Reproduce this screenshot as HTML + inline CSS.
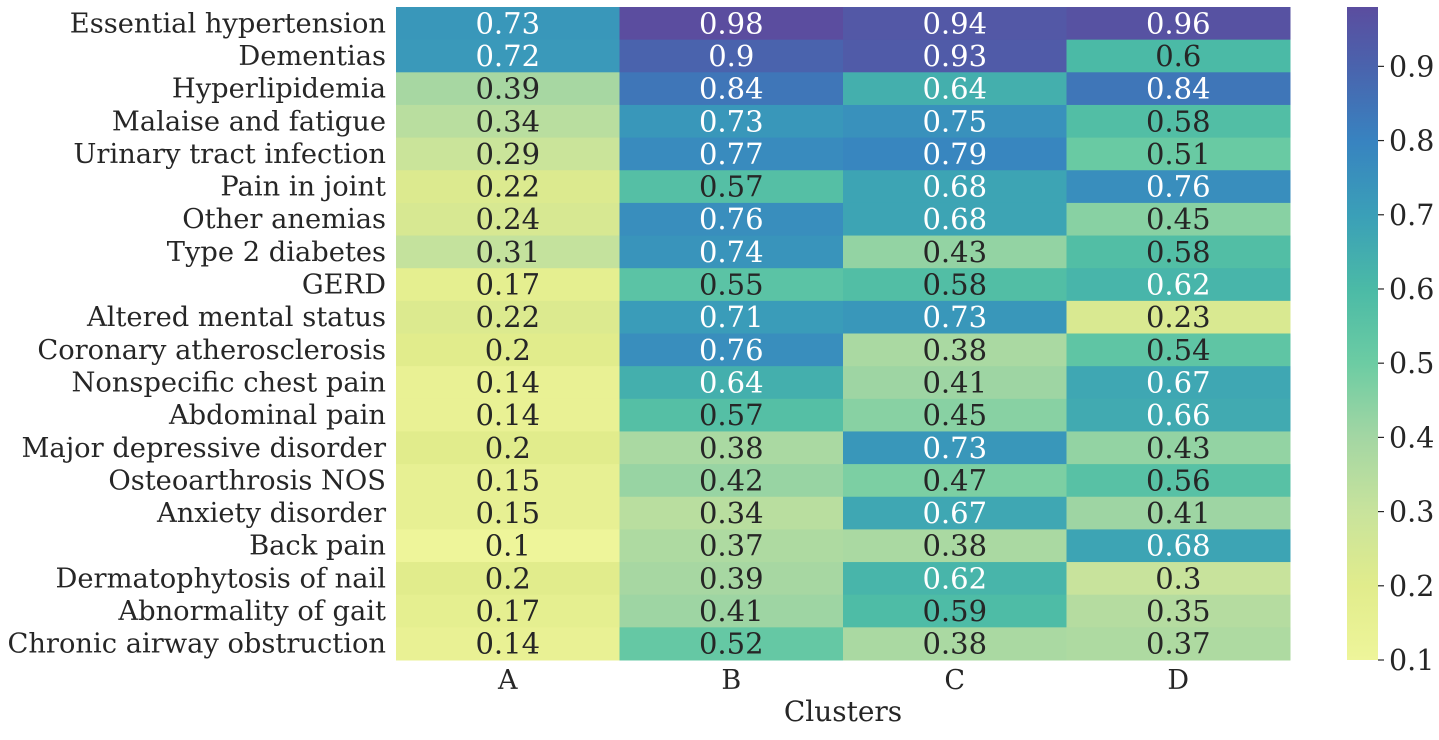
<!DOCTYPE html>
<html><head><meta charset="utf-8">
<style>
body{margin:0;background:#fff;width:1439px;height:735px;overflow:hidden}
svg text{font-family:"DejaVu Serif","Liberation Serif",serif;fill:#262626}
</style></head>
<body>
<svg id="chart" width="1439" height="735" xmlns="http://www.w3.org/2000/svg">
<defs><linearGradient id="cbg" x1="0" y1="1" x2="0" y2="0"></linearGradient></defs>
<g id="cells"></g>
<g id="ylabels"></g>
<g id="xlabels"></g>
<text x="843" y="721" font-size="28" text-anchor="middle">Clusters</text>
<rect x="1347" y="7" width="31" height="653" fill="url(#cbg)"/>
<g id="cbticks"></g>
</svg>
<script>
const categories=["Essential hypertension","Dementias","Hyperlipidemia","Malaise and fatigue","Urinary tract infection","Pain in joint","Other anemias","Type 2 diabetes","GERD","Altered mental status","Coronary atherosclerosis","Nonspecific chest pain","Abdominal pain","Major depressive disorder","Osteoarthrosis NOS","Anxiety disorder","Back pain","Dermatophytosis of nail","Abnormality of gait","Chronic airway obstruction"];
const clusters=["A","B","C","D"];
const seriesA=[0.73,0.72,0.39,0.34,0.29,0.22,0.24,0.31,0.17,0.22,0.2,0.14,0.14,0.2,0.15,0.15,0.1,0.2,0.17,0.14];
const seriesB=[0.98,0.9,0.84,0.73,0.77,0.57,0.76,0.74,0.55,0.71,0.76,0.64,0.57,0.38,0.42,0.34,0.37,0.39,0.41,0.52];
const seriesC=[0.94,0.93,0.64,0.75,0.79,0.68,0.68,0.43,0.58,0.73,0.38,0.41,0.45,0.73,0.47,0.67,0.38,0.62,0.59,0.38];
const seriesD=[0.96,0.6,0.84,0.58,0.51,0.76,0.45,0.58,0.62,0.23,0.54,0.67,0.66,0.43,0.56,0.41,0.68,0.3,0.35,0.37];
const cbTicks=[0.1,0.2,0.3,0.4,0.5,0.6,0.7,0.8,0.9];
const vmin=0.1, vmax=0.98;
const stops=[[0,"#eef59a"],[0.1136,"#e1ec8c"],[0.227,"#c8e39c"],[0.341,"#a3d6a3"],[0.4545,"#6ccca3"],[0.568,"#4bbaa6"],[0.682,"#3a9fb8"],[0.795,"#3883c0"],[0.909,"#4a63ad"],[1,"#5b4d9f"]];
const NS="http://www.w3.org/2000/svg";
const X0=396,X1=1290,Y0=7,Y1=660;
const cw=(X1-X0)/clusters.length, rh=(Y1-Y0)/categories.length;
function hex(h){return [1,3,5].map(i=>parseInt(h.substr(i,2),16));}
function color(v){let t=Math.max(0,Math.min(1,(v-vmin)/(vmax-vmin)));
 for(let i=1;i<stops.length;i++){if(t<=stops[i][0]){const a=stops[i-1],b=stops[i];const f=(t-a[0])/(b[0]-a[0]);const ca=hex(a[1]),cb=hex(b[1]);return "rgb("+ca.map((c,k)=>Math.round(c+(cb[k]-c)*f)).join(",")+")";}}
 return stops[stops.length-1][1];}
function el(t,a,p){const e=document.createElementNS(NS,t);for(const k in a)e.setAttribute(k,a[k]);p.appendChild(e);return e;}
const series=[seriesA,seriesB,seriesC,seriesD];
const cells=document.getElementById('cells');
series.forEach((s,j)=>s.forEach((v,i)=>{
 const r=el('rect',{x:X0+j*cw,y:Y0+i*rh,width:cw+0.5,height:rh+0.5,fill:color(v)},cells);
 
 
 const t=el('text',{x:X0+(j+0.5)*cw,y:Y0+(i+0.5)*rh+10,'font-size':29,'text-anchor':'middle'},cells);
 t.style.fill=v>0.61?'#ffffff':'#262626';
 t.textContent=String(v);
 
 
}));
const yl=document.getElementById('ylabels');
categories.forEach((c,i)=>{const t=el('text',{x:386,y:Y0+(i+0.5)*rh+9,'font-size':27.3,'text-anchor':'end'},yl);t.textContent=c;
 
 });
const xl=document.getElementById('xlabels');
clusters.forEach((c,j)=>{const t=el('text',{x:X0+(j+0.5)*cw,y:689,'font-size':27,'text-anchor':'middle'},xl);t.textContent=c;
 
 });
const g=document.getElementById('cbg');
stops.forEach(s=>el('stop',{offset:s[0],'stop-color':s[1]},g));
const cb=document.getElementById('cbticks');
cbTicks.forEach(v=>{const y=Y1-(v-vmin)/(vmax-vmin)*(Y1-Y0);
 const l=el('line',{x1:1378,x2:1384,y1:y,y2:y,stroke:'#262626','stroke-width':1.2},cb);
 
 
 const t=el('text',{x:1389,y:y+10,'font-size':28.5},cb);t.textContent=v.toFixed(1);
 
 });
</script>
</body></html>
